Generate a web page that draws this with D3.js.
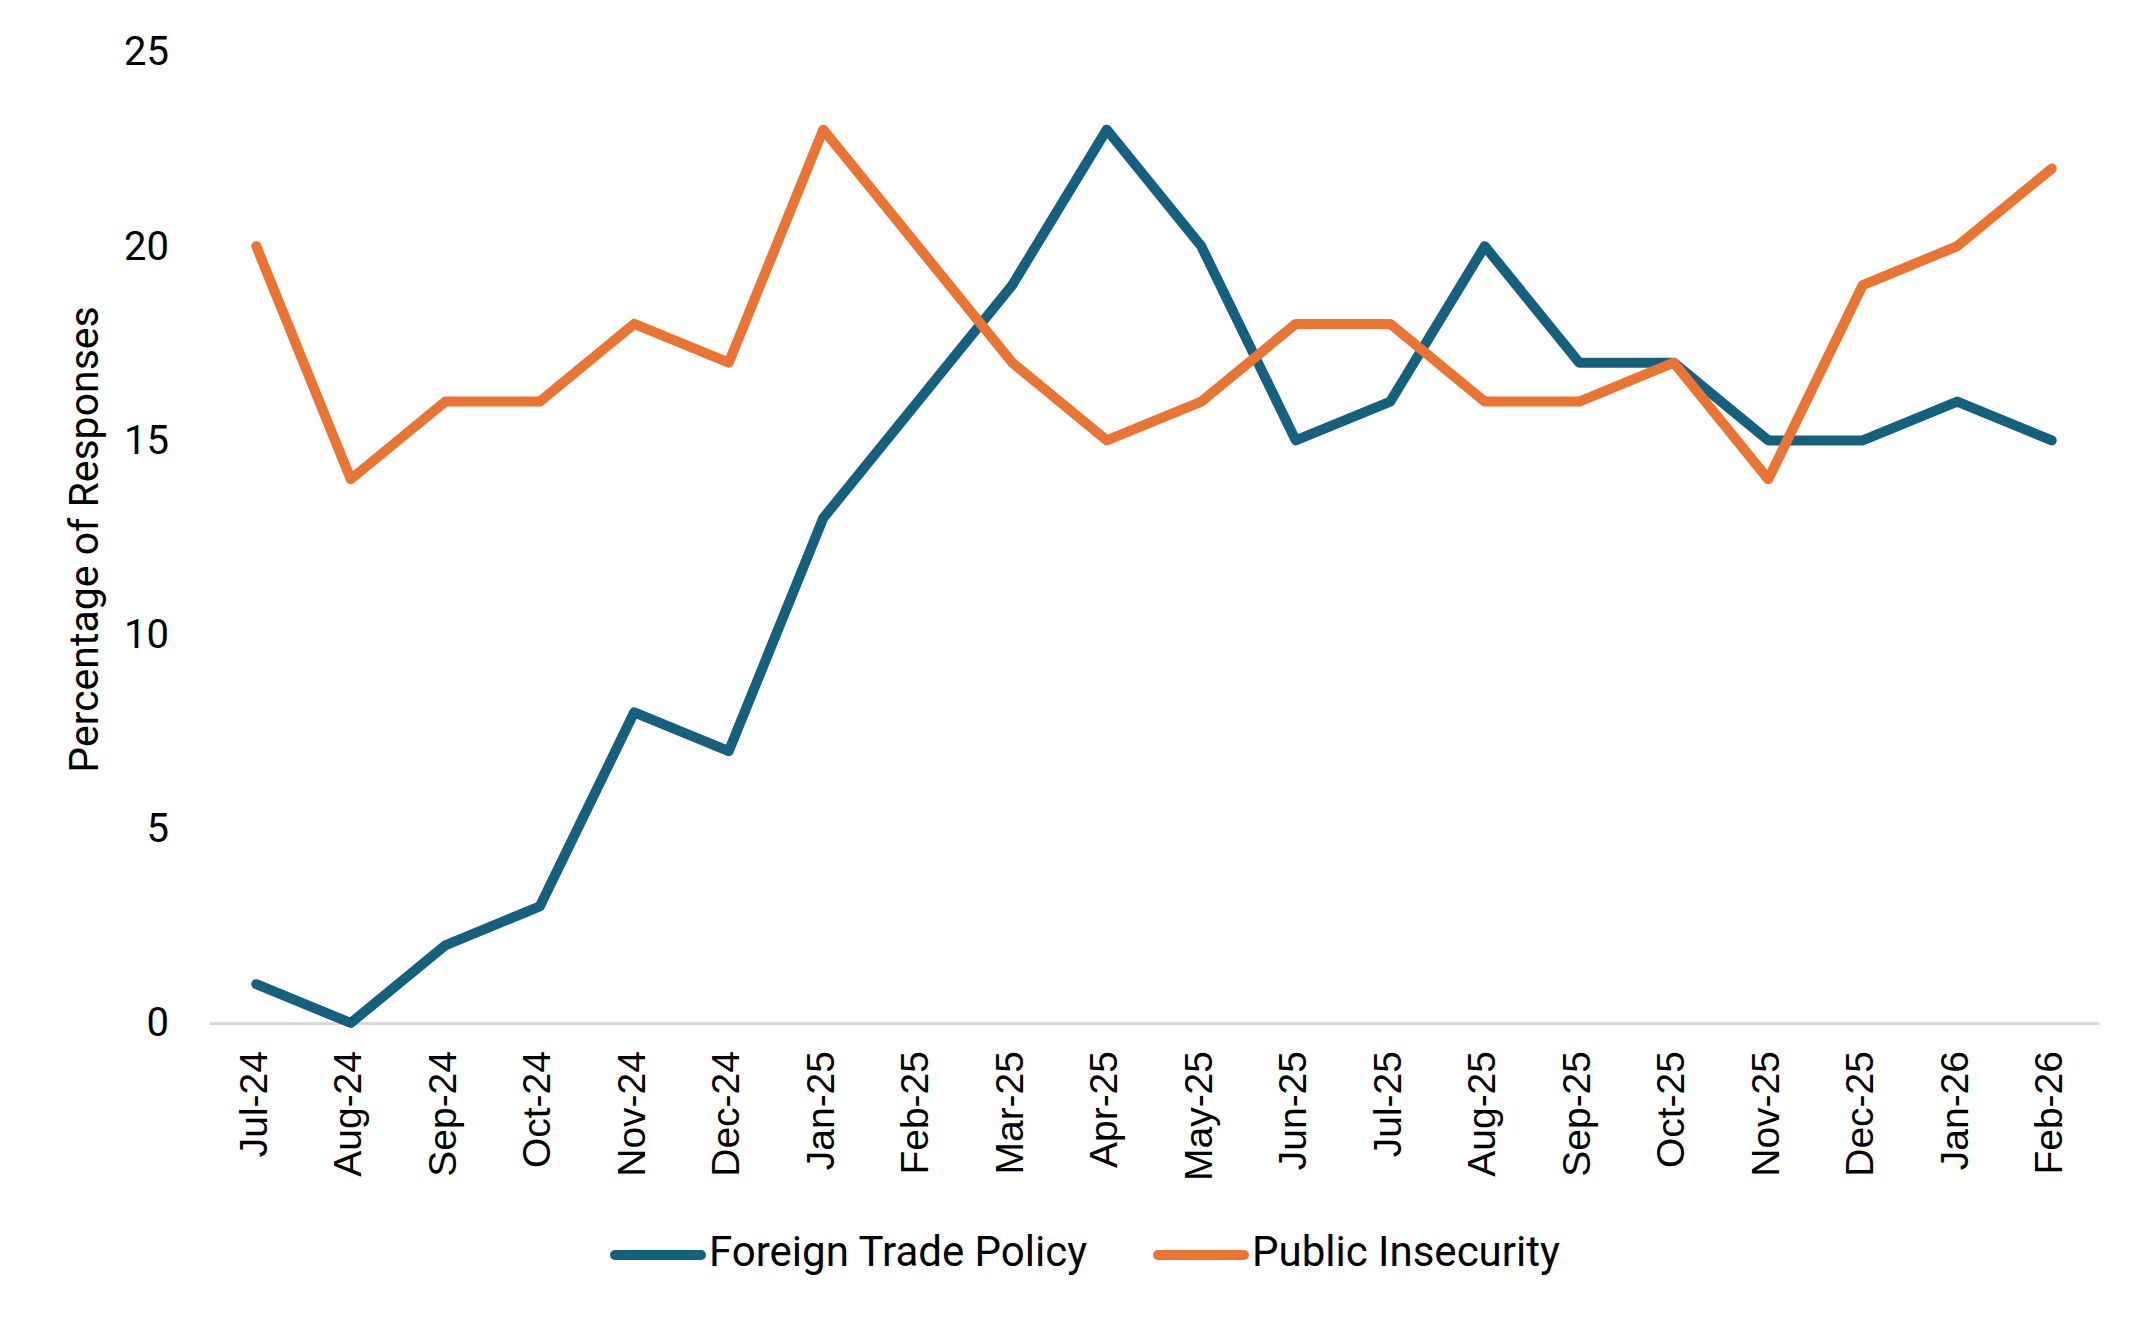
<!DOCTYPE html>
<html>
<head>
<meta charset="utf-8">
<script src="https://cdn.jsdelivr.net/npm/d3@7"></script>
<style>
  body { margin: 0; background: #fff; }
</style>
</head>
<body>
<div id="chart"></div>
<script>
const months = ['Jul-24','Aug-24','Sep-24','Oct-24','Nov-24','Dec-24','Jan-25','Feb-25','Mar-25','Apr-25',
  'May-25','Jun-25','Jul-25','Aug-25','Sep-25','Oct-25','Nov-25','Dec-25','Jan-26','Feb-26']
const tradePolicy = [1,0,2,3,8,7,13,16,19,23,20,15,16,20,17,17,15,15,16,15]
const publicInsecurity = [20,14,16,16,18,17,23,20,17,15,16,18,18,16,16,17,14,19,20,22]
const yTicks = [0,5,10,15,20,25]
const seriesNames = ['Foreign Trade Policy','Public Insecurity']
const seriesColors = ['#16607f','#e97434']

const width = 2154, height = 1329
const margin = ({top: 52, right: 55, bottom: 306, left: 209})
const visWidth = width - margin.left - margin.right
const visHeight = height - margin.top - margin.bottom

const series = [tradePolicy, publicInsecurity].map((vals, i) => ({
  name: seriesNames[i],
  color: seriesColors[i],
  values: vals.map((v, j) => ({month: months[j], value: v}))
}))

const x = d3.scaleBand().domain(months).range([0, visWidth])
const y = d3.scaleLinear().domain([0, 25]).range([visHeight, 0])

const svg = d3.select('#chart').append('svg')
    .attr('width', width)
    .attr('height', height)

const g = svg.append('g')
    .attr('transform', `translate(${margin.left}, ${margin.top})`)

// y axis: labels only
g.append('g')
    .call(d3.axisLeft(y).tickValues(yTicks).tickSize(0).tickPadding(40))
    .call(g => g.select('.domain').remove())
    .call(g => g.selectAll('text')
      .attr('font-family', 'Roboto, sans-serif')
      .attr('font-size', 40)
      .attr('fill', '#000'))

// x axis: baseline + rotated labels
g.append('g')
    .attr('transform', `translate(0, ${visHeight})`)
    .call(d3.axisBottom(x).tickSize(0))
    .call(g => g.select('.domain').attr('stroke', '#d9d9d9').attr('stroke-width', 3))
    .call(g => g.selectAll('text')
      .attr('font-family', '"Liberation Sans", Arial, sans-serif')
      .attr('font-size', 39)
      .attr('fill', '#000')
      .attr('text-anchor', 'end')
      .attr('dominant-baseline', 'middle')
      .attr('transform', 'translate(0, 28) rotate(-90)')
      .attr('x', 0).attr('y', 0).attr('dy', null))

// y axis title
svg.append('text')
    .attr('transform', `translate(87, ${margin.top + visHeight / 2 + 2}) rotate(-90)`)
    .attr('text-anchor', 'middle')
    .attr('dominant-baseline', 'middle')
    .attr('font-family', 'Roboto, sans-serif')
    .attr('font-size', 41)
    .text('Percentage of Responses')

const line = d3.line()
    .x(d => x(d.month) + x.bandwidth() / 2)
    .y(d => y(d.value))

g.selectAll('.series')
  .data(series)
  .join('path')
    .attr('class', 'series')
    .attr('d', d => line(d.values))
    .attr('fill', 'none')
    .attr('stroke', d => d.color)
    .attr('stroke-width', 10)
    .attr('stroke-linejoin', 'round')
    .attr('stroke-linecap', 'round')

// legend
const legendX = [611, 1154]
const legend = svg.selectAll('.legend')
  .data(series)
  .join('g')
    .attr('class', 'legend')
    .attr('transform', (d, i) => `translate(${legendX[i]}, 1255)`)

legend.append('line')
    .attr('x1', 4).attr('x2', 90)
    .attr('y1', 0).attr('y2', 0)
    .attr('stroke', d => d.color)
    .attr('stroke-width', 10)
    .attr('stroke-linecap', 'round')

legend.append('text')
    .attr('x', 98)
    .attr('y', 0)
    .attr('dominant-baseline', 'middle')
    .attr('font-family', 'Roboto, sans-serif')
    .attr('font-size', 42)
    .text(d => d.name)
</script>
</body>
</html>
